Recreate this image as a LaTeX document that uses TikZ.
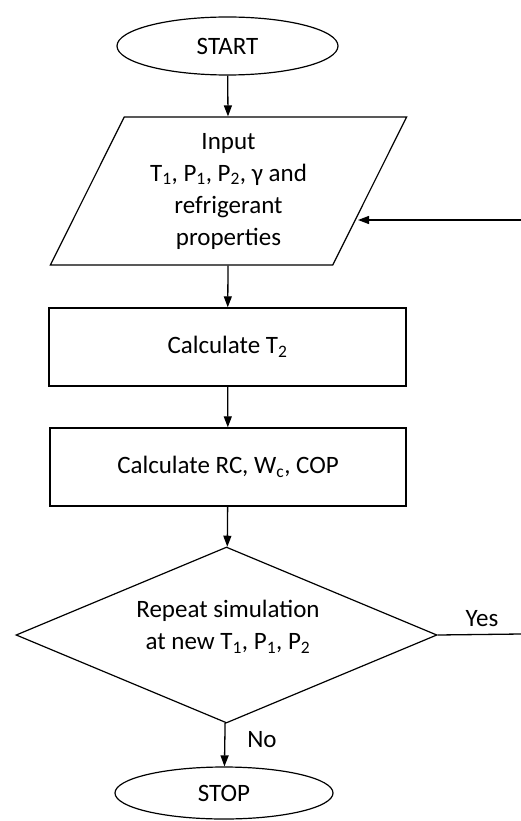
\documentclass[tikz,border=0pt]{standalone}
\usepackage{fontspec}
\setmainfont{Carlito}
\usetikzlibrary{shapes.geometric,arrows.meta}
\begin{document}
\begin{tikzpicture}[x=1pt,y=-1pt,
  every node/.style={font=\fontsize{25}{32}\selectfont, inner sep=0pt},
  term/.style={draw, ellipse, line width=1.2pt},
  io/.style={draw, trapezium, trapezium left angle=64.4, trapezium right angle=115.6, trapezium stretches=true, line width=1.2pt, align=center},
  proc/.style={draw, rectangle, line width=1.4pt},
  dec/.style={draw, diamond, line width=1.2pt, align=center},
  arr/.style={line width=1.3pt, -{Triangle[length=11pt,width=8pt]}},
  plain/.style={line width=1.3pt}]
\useasboundingbox (0,0) rectangle (521,821);
\node[term, minimum width=221pt, minimum height=58pt] (start) at (227.5,46) {START};
\node[io, minimum width=357pt, minimum height=148pt] (in) at (228.5,191) {Input\\T\textsubscript{1}, P\textsubscript{1}, P\textsubscript{2}, γ and\\refrigerant\\properties};
\node[proc, minimum width=357pt, minimum height=78pt] (c1) at (227.5,347) {Calculate T\textsubscript{2}};
\node[proc, minimum width=356pt, minimum height=78pt] (c2) at (228,467) {Calculate RC, W\textsubscript{c}, COP};
\node[dec, minimum width=421pt, minimum height=176pt, aspect=2.39] (d) at (226.5,635) {};
\node (dtext) at (228,627) [align=center] {Repeat simulation\\at new T\textsubscript{1}, P\textsubscript{1}, P\textsubscript{2}};
\node[term, minimum width=218pt, minimum height=52pt] (stop) at (224,793) {STOP};
\node (yes) at (482,619) {Yes};
\node (no) at (262,740) {No};
\coordinate (yesend) at (521,634);
\coordinate (loopstart) at (521,220);
\coordinate (loopin) at (358,220);
\draw[arr] (start) -- (in);
\draw[arr] (in) -- (c1);
\draw[arr] (c1) -- (c2);
\draw[arr] (c2) -- (d);
\draw[arr] (d) -- (stop);
\draw[plain] (d.east) -- (yesend);
\draw[arr] (loopstart) -- (loopin);
\end{tikzpicture}
\end{document}
